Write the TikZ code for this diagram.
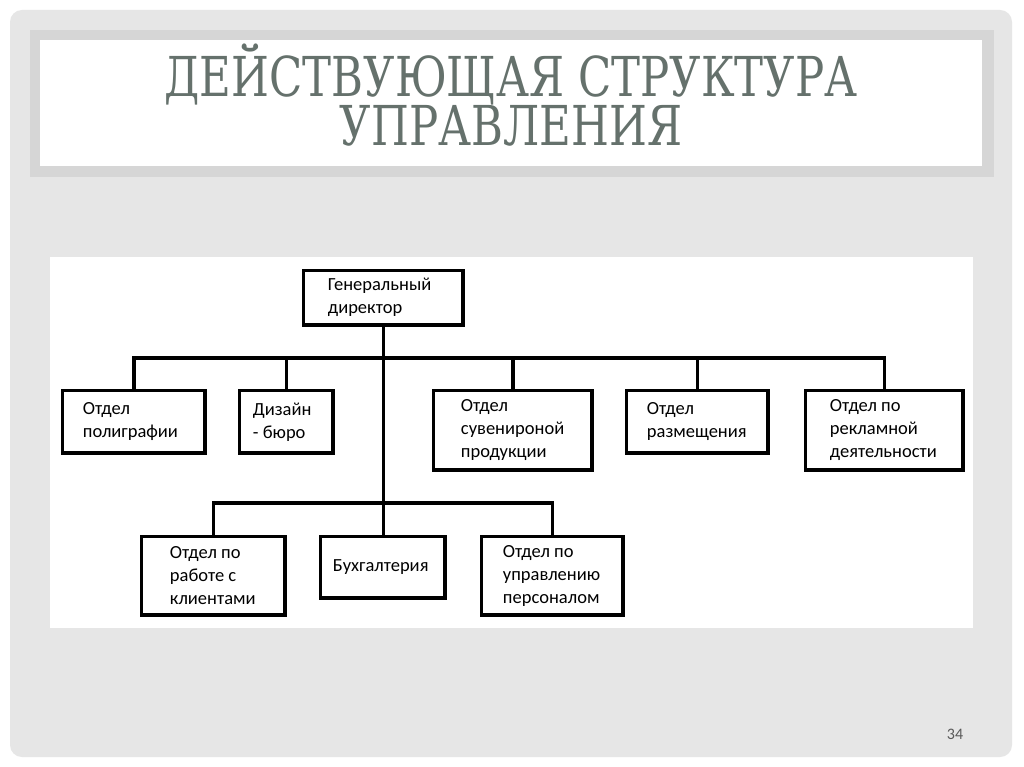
\documentclass[tikz,border=0pt]{standalone}
\usepackage{fontspec}
\usepackage{graphicx}
\setmainfont{DejaVu Serif}
\newfontfamily\titrefont{DejaVu Serif}
\newfontfamily\boitefont{Carlito}
\usetikzlibrary{positioning}
\definecolor{fondpage}{HTML}{E6E6E6}
\definecolor{bordtitre}{HTML}{D6D6D6}
\definecolor{textetitre}{HTML}{65716C}
\definecolor{numpage}{HTML}{595959}
\newcommand{\etroit}[1]{\scalebox{0.79}[1]{#1}}

\begin{document}
\begin{tikzpicture}[x=1pt, y=-1pt]
        % --- Styles ---
        \tikzset{
            titre/.style={font=\titrefont\fontsize{55}{48}\selectfont, text=textetitre, align=center, inner sep=0},
            boite/.style={draw, line width=3.5pt, inner sep=0, anchor=north west},
            texte/.style={font=\boitefont\fontsize{18.5}{23}\selectfont, align=left, inner sep=0},
            lien/.style={line width=3.5pt}
        }
        \useasboundingbox (0,0) rectangle (1024,767);

        % =====================================================================
        % FOND DE LA DIAPOSITIVE
        % =====================================================================
        \fill[white] (0,0) rectangle (1024,767);
        \fill[fondpage, rounded corners=12pt] (10,10) rectangle (1012,757);

        % Cadre du titre
        \fill[bordtitre] (30,30) rectangle (994,177);
        \fill[white] (40,40) rectangle (982,166);
        \node[titre] (titre) at (511,95) {\etroit{ДЕЙСТВУЮЩАЯ СТРУКТУРА}\\\etroit{УПРАВЛЕНИЯ}};

        % Zone blanche de l'organigramme
        \fill[white] (50,257) rectangle (973,628);

        % =====================================================================
        % BOITES
        % =====================================================================
        \node[boite, minimum width=159.5, minimum height=54.5] (dg) at (301.75,268.75) {};
        \node[texte, right=26pt of dg.west] (dgT) {Генеральный\\директор};

        % Premier niveau
        \node[boite, minimum width=142.5, minimum height=62.5] (poly) at (60.75,388.75) {};
        \node[texte, right=22pt of poly.west] (polyT) {Отдел\\полиграфии};

        \node[boite, minimum width=93.5, minimum height=62.5] (diz) at (237.75,388.75) {};
        \node[texte, right=15pt of diz.west] (dizT) {Дизайн\\- бюро};

        \node[boite, minimum width=158.5, minimum height=79.5] (suv) at (431.75,388.75) {};
        \node[texte, right=29pt of suv.west] (suvT) {Отдел\\сувенироной\\продукции};

        \node[boite, minimum width=141.5, minimum height=62.5] (razm) at (624.75,388.75) {};
        \node[texte, right=22pt of razm.west] (razmT) {Отдел\\размещения};

        \node[boite, minimum width=157.5, minimum height=79.5] (rekl) at (803.75,388.75) {};
        \node[texte, right=26pt of rekl.west] (reklT) {Отдел по\\рекламной\\деятельности};

        % Second niveau
        \node[boite, minimum width=143.5, minimum height=78.5] (kli) at (139.75,534.75) {};
        \node[texte, right=30pt of kli.west] (kliT) {Отдел по\\работе с\\клиентами};

        \node[boite, minimum width=124.5, minimum height=61.5] (buh) at (318.75,534.75) {};
        \node[texte, right=14pt of buh.west] (buhT) {Бухгалтерия};

        \node[boite, minimum width=141.5, minimum height=78.5] (pers) at (479.75,534.75) {};
        \node[texte, right=23pt of pers.west] (persT) {Отдел по\\управлению\\персоналом};

        % =====================================================================
        % LIAISONS
        % =====================================================================
        \coordinate (busH) at (0,358);
        \coordinate (busB) at (0,503);

        \draw[lien] (dg.south) -- (dg.south |- buh.north);
        \draw[lien] (poly.north) |- (rekl.north |- busH) -- (rekl.north);
        \foreach \n in {diz,suv,razm} {\draw[lien] (\n.north) -- (\n.north |- busH);}
        \draw[lien] (kli.north) |- (pers.north |- busB) -- (pers.north);

        % Numéro de page
        \node[font=\boitefont\fontsize{16}{16}\selectfont, text=numpage] (num) at (955,734) {34};
\end{tikzpicture}
\end{document}
